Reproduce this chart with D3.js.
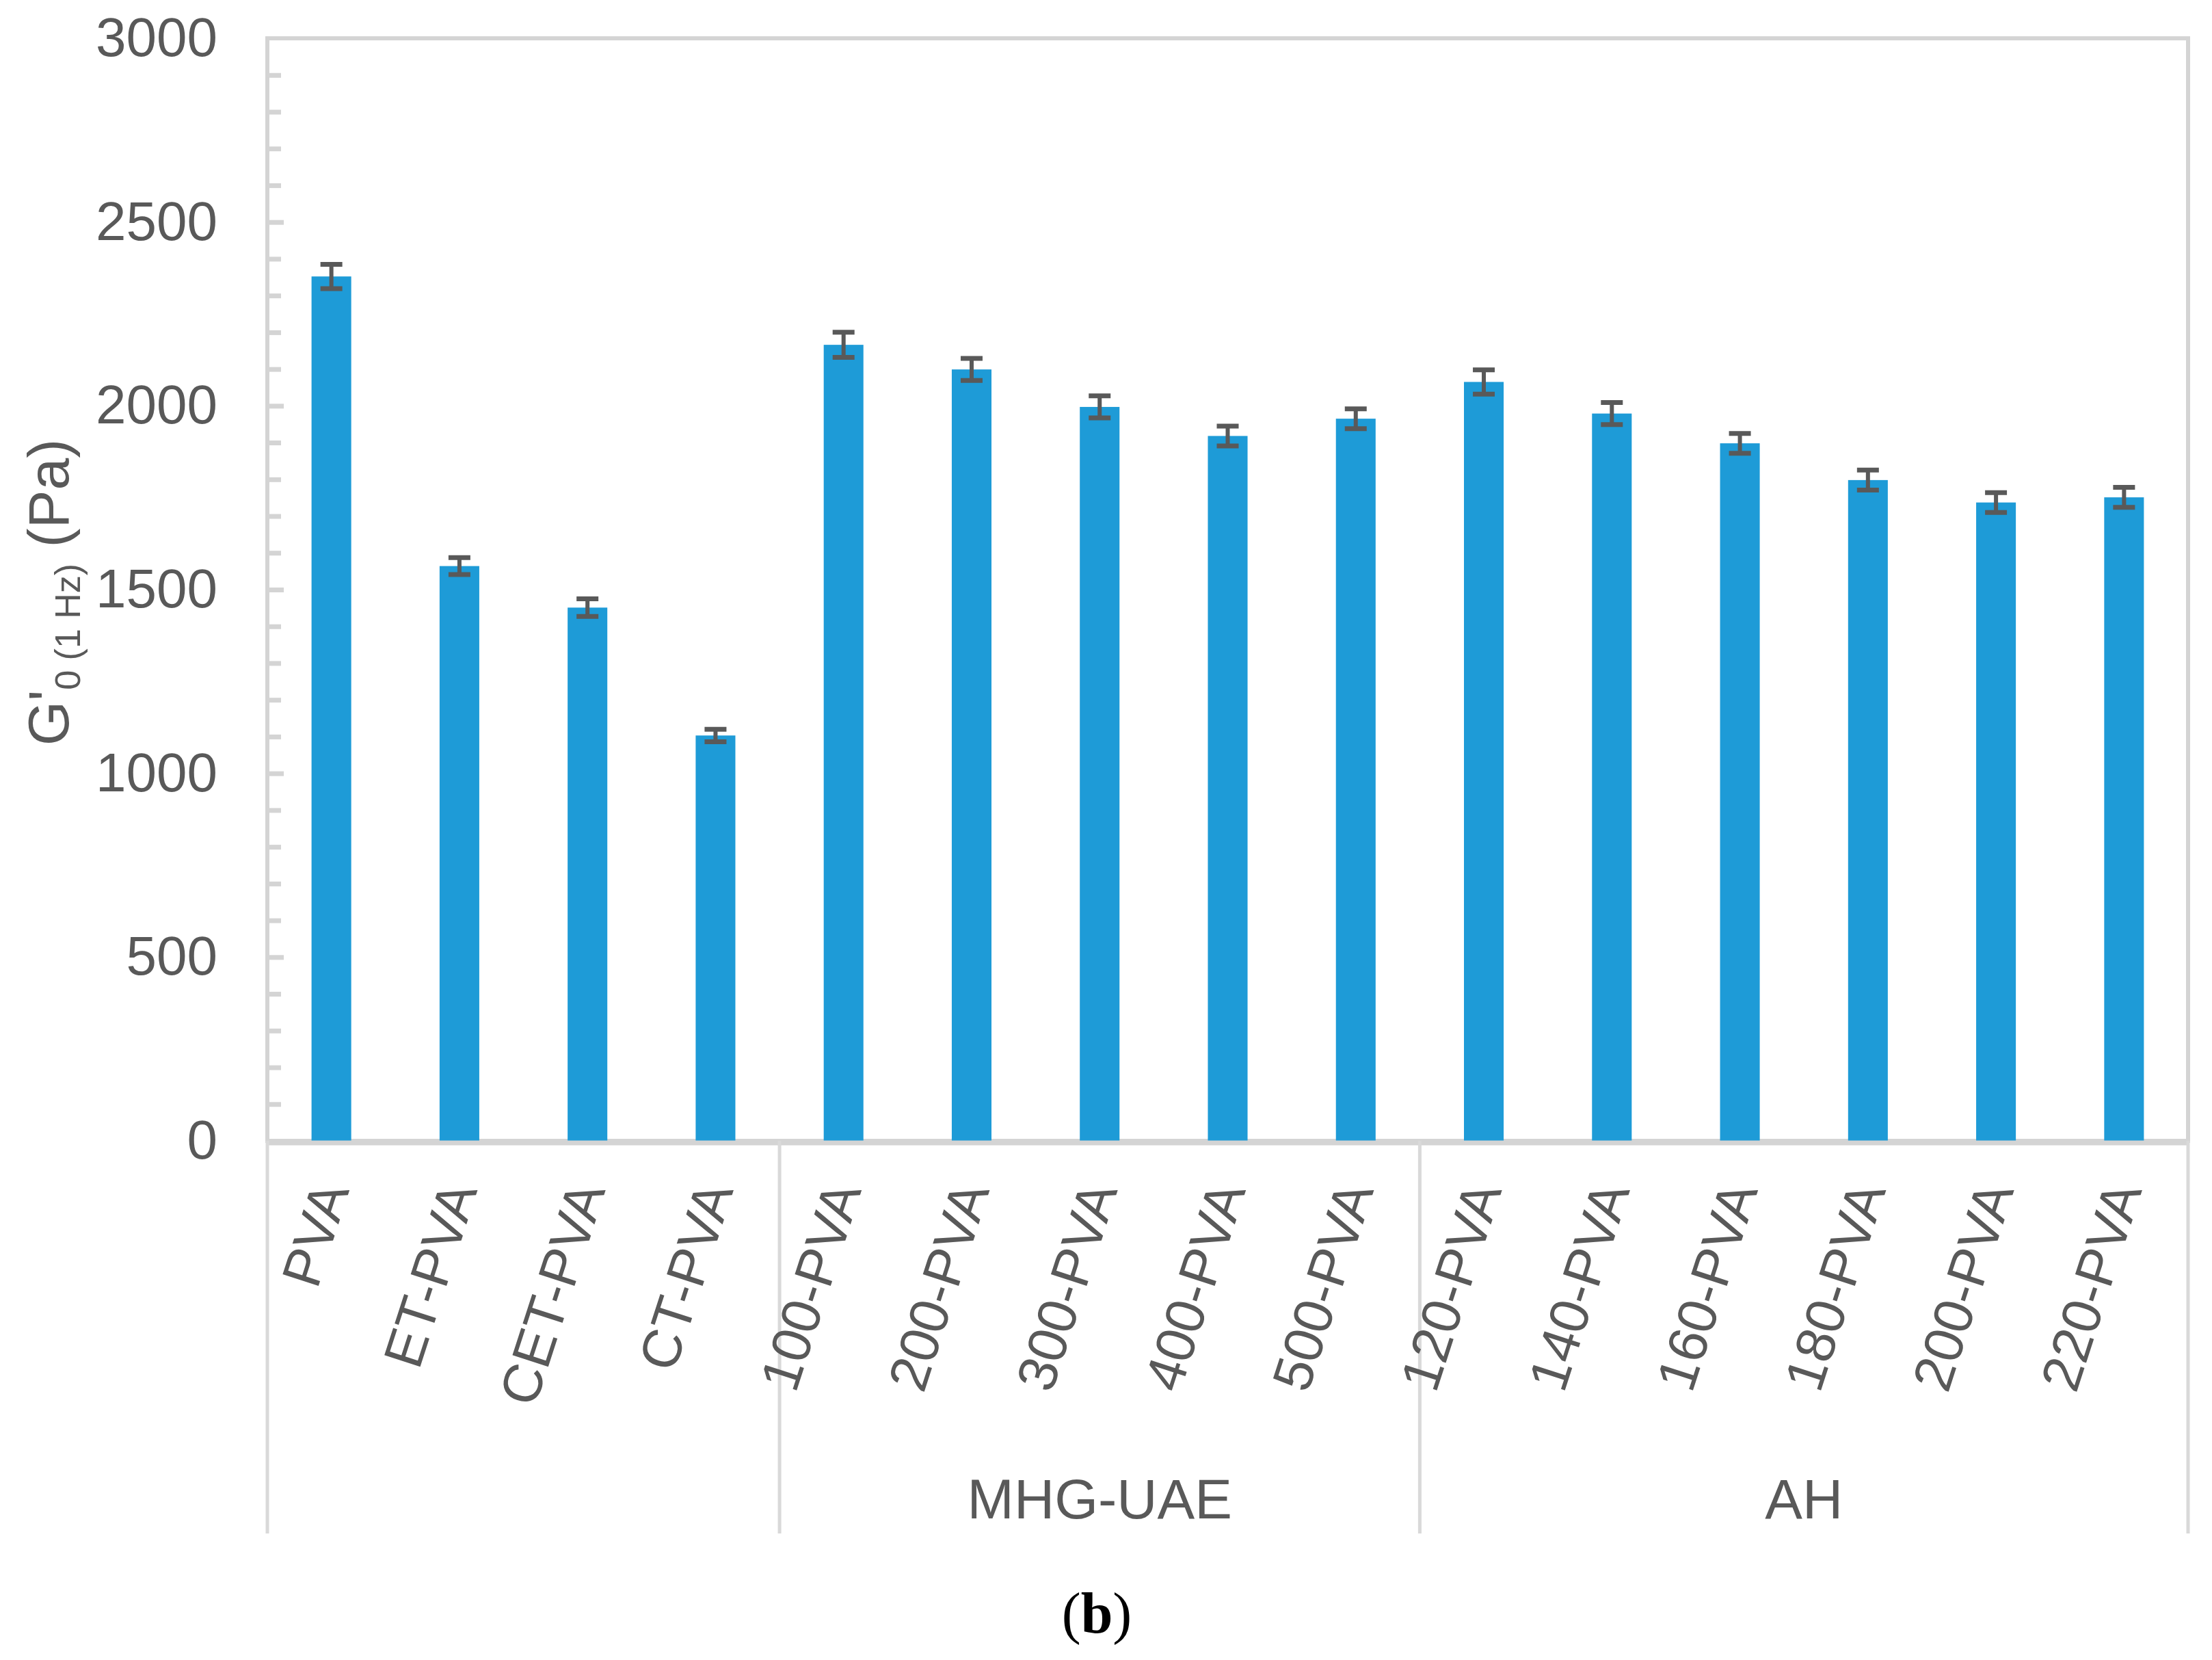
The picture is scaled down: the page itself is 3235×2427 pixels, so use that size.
<!DOCTYPE html>
<html>
<head>
<meta charset="utf-8">
<script src="https://cdn.jsdelivr.net/npm/d3@7"></script>
<style>
  body { margin: 0; background: #fff; }
  text { font-family: "Liberation Sans", Arial, sans-serif; fill: #595959; }
</style>
</head>
<body>
<svg id="chart"></svg>
<script>
// bar labels (the 200-PVA name shows up twice, so the scale works on indices)
let labels = ["PVA", "ET-PVA", "CET-PVA", "CT-PVA",
              "100-PVA", "200-PVA", "300-PVA", "400-PVA", "500-PVA",
              "120-PVA", "140-PVA", "160-PVA", "180-PVA", "200-PVA", "220-PVA"]
let values = [2352, 1564, 1451, 1103, 2166, 2099, 1997, 1918, 1965, 2065, 1979, 1898, 1798, 1737, 1751]
let errors = [33, 23, 24, 17, 34, 30, 30, 27, 27, 33, 30, 27, 27, 27, 27]
let groupNames = ["", "MHG-UAE", "AH"]
let groupStarts = [0, 4, 9]
let groupEnds = [4, 9, 15]
let majorTicks = [0, 500, 1000, 1500, 2000, 2500, 3000]
let minorTicks = d3.range(0, 3001, 100)

let W = 3235, H = 2427
let plotLeft = 391, plotRight = 3200, plotTop = 56, plotBottom = 1668
let groupBottom = 2242
let grey = "#d4d4d4"

let svg = d3.select("#chart")
    .attr("width", W)
    .attr("height", H)

let x = d3.scaleBand()
    .domain(d3.range(labels.length))
    .range([plotLeft, plotRight])
    .paddingInner(0.69)
    .paddingOuter(0.345)

let y = d3.scaleLinear()
    .domain([0, 3000])
    .range([plotBottom, plotTop])

let step = x.step()
let bandEdge = i => plotLeft + i * step

// plot frame
svg.append("rect")
    .attr("x", plotLeft).attr("y", plotTop)
    .attr("width", plotRight - plotLeft).attr("height", plotBottom - plotTop)
    .attr("fill", "none")
    .attr("stroke", grey)
    .attr("stroke-width", 6)

// inner ticks on the y axis
let minorAxis = d3.axisRight(y)
    .tickValues(minorTicks.filter(v => v % 500 != 0))
    .tickSize(20)
    .tickFormat("")
let majorAxis = d3.axisRight(y)
    .tickValues(majorTicks.slice(1, -1))
    .tickSize(24)
    .tickFormat("")
for (let ax of [minorAxis, majorAxis]) {
    let g = svg.append("g").attr("transform", "translate(" + plotLeft + ",0)").call(ax)
    g.select(".domain").remove()
    g.selectAll("line").attr("stroke", grey).attr("stroke-width", 7)
}

// y tick labels
let yLabels = svg.append("g")
    .attr("transform", "translate(" + plotLeft + ",0)")
    .call(d3.axisLeft(y).tickValues(majorTicks).tickFormat(d3.format("d")).tickSize(0).tickPadding(73))
yLabels.select(".domain").remove()
yLabels.selectAll("text")
    .attr("font-size", 80)
    .attr("font-family", "Liberation Sans, Arial, sans-serif")
    .attr("fill", "#595959")

// y axis title: G'0 (1 Hz) (Pa)
let yTitle = svg.append("text")
    .attr("transform", "translate(100," + ((plotTop + plotBottom) / 2 + 4) + ") rotate(-90)")
    .attr("text-anchor", "middle")
    .attr("font-size", 84)
yTitle.append("tspan").text("G'")
yTitle.append("tspan").attr("font-size", 52).attr("dy", 17).text("0 (1 Hz)")
yTitle.append("tspan").attr("dy", -17).text(" (Pa)")

// bars
svg.append("g").selectAll("rect")
    .data(values)
    .join("rect")
    .attr("x", (d, i) => x(i))
    .attr("y", d => y(d))
    .attr("width", x.bandwidth())
    .attr("height", d => y(0) - y(d))
    .attr("fill", "#1e9bd7")

// error bars
let errG = svg.append("g").attr("stroke", "#595959")
values.forEach((v, i) => {
    let cx = x(i) + x.bandwidth() / 2
    errG.append("line")
        .attr("x1", cx).attr("x2", cx)
        .attr("y1", y(v + errors[i])).attr("y2", y(v - errors[i]))
        .attr("stroke-width", 6)
    for (let e of [v + errors[i], v - errors[i]]) {
        errG.append("line")
            .attr("x1", cx - 16).attr("x2", cx + 16)
            .attr("y1", y(e)).attr("y2", y(e))
            .attr("stroke-width", 7)
    }
})

// category axis line
svg.append("line")
    .attr("x1", plotLeft).attr("x2", plotRight)
    .attr("y1", plotBottom + 3).attr("y2", plotBottom + 3)
    .attr("stroke", grey)
    .attr("stroke-width", 7)

// group box lines below the axis
let seps = groupStarts.concat([labels.length])
svg.append("g").selectAll("line")
    .data(seps)
    .join("line")
    .attr("x1", d => bandEdge(d)).attr("x2", d => bandEdge(d))
    .attr("y1", plotBottom).attr("y2", groupBottom)
    .attr("stroke", "#d9d9d9")
    .attr("stroke-width", 5)

// rotated category labels
svg.append("g").selectAll("text")
    .data(labels)
    .join("text")
    .attr("transform", (d, i) => "translate(" + (x(i) + x.bandwidth() / 2) + "," + (plotBottom + 63) + ") rotate(-72)")
    .attr("text-anchor", "end")
    .attr("dy", "0.35em")
    .attr("font-size", 80)
    .text(d => d)

// group labels
svg.append("g").selectAll("text")
    .data(groupNames)
    .join("text")
    .attr("x", (d, i) => (bandEdge(groupStarts[i]) + bandEdge(groupEnds[i])) / 2)
    .attr("y", 2220)
    .attr("text-anchor", "middle")
    .attr("font-size", 82)
    .text(d => d)

// caption
let cap = svg.append("text")
    .attr("x", 1604)
    .attr("y", 2387)
    .attr("text-anchor", "middle")
    .attr("font-size", 84)
    .style("font-family", "Liberation Serif, Times New Roman, serif")
    .style("fill", "#000")
cap.append("tspan").text("(")
cap.append("tspan").attr("font-weight", "bold").text("b")
cap.append("tspan").text(")")
</script>
</body>
</html>
